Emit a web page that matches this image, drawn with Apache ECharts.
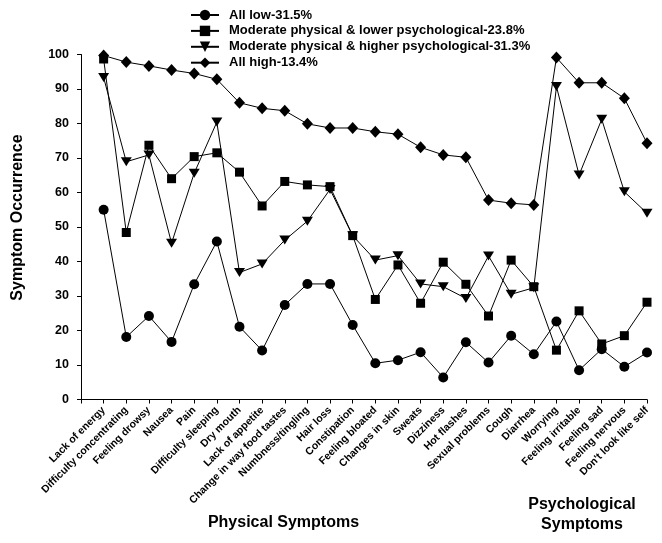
<!DOCTYPE html>
<html>
<head>
<meta charset="utf-8">
<script src="https://cdn.jsdelivr.net/npm/echarts@6/dist/echarts.min.js"></script>
<style>
html,body{margin:0;padding:0;background:#fff;}
#chart{width:662px;height:543px;}
</style>
</head>
<body>
<div id="chart"></div>
<script>
var categories = ["Lack of energy","Difficulty concentrating","Feeling drowsy","Nausea","Pain","Difficulty sleeping","Dry mouth","Lack of appetite","Change in way food tastes","Numbness/tingling","Hair loss","Constipation","Feeling bloated","Changes in skin","Sweats","Dizziness","Hot flashes","Sexual problems","Cough","Diarrhea","Worrying","Feeling irritable","Feeling sad","Feeling nervous","Don't look like self"];
var seriesNames = ["All low-31.5%","Moderate physical & lower psychological-23.8%","Moderate physical & higher psychological-31.3%","All high-13.4%"];
var allLow = [55,18.1,24.2,16.7,33.4,45.8,21.1,14.2,27.4,33.5,33.5,21.6,10.5,11.4,13.7,6.4,16.6,10.7,18.5,13.1,22.6,8.5,14.6,9.5,13.6];
var modLower = [98.7,48.4,73.7,64.0,70.4,71.5,65.9,56.1,63.2,62.2,61.7,47.5,29.0,39.0,27.9,39.8,33.4,24.2,40.4,32.7,14.3,25.7,16.1,18.5,28.2];
var modHigher = [93.3,68.9,70.9,45.3,65.6,80.4,36.8,39.3,46.2,51.7,60.9,47.5,40.4,41.7,33.5,32.7,29.3,41.6,30.5,32.4,90.7,65.1,81.2,60.2,54.0];
var allHigh = [99.7,97.8,96.7,95.5,94.5,92.8,86.0,84.4,83.7,79.9,78.7,78.7,77.6,76.9,73.1,70.9,70.2,57.8,56.9,56.4,99.1,91.8,91.8,87.3,74.3];
var yTicks = [0,10,20,30,40,50,60,70,80,90,100];

var FONT = '"Liberation Sans", Arial, sans-serif';
var chart = echarts.init(document.getElementById('chart'), null, {renderer:'canvas'});

function mk(name, data, symbol, size, rotate) {
  return {
    name: name, type: 'line', data: [null].concat(data),
    symbol: symbol, symbolSize: size, symbolRotate: rotate || 0,
    showAllSymbol: true,
    lineStyle: {color:'#000', width:1},
    itemStyle: {color:'#000', borderColor:'#000', borderWidth:0},
    emphasis: {disabled:true}, animation:false
  };
}

chart.setOption({
  animation: false,
  backgroundColor: '#fff',
  grid: {left:81, right:15, top:54.5, bottom:143.5, containLabel:false},
  legend: {
    orient:'vertical', left:190, top:8, padding:0, itemWidth:28, itemHeight:13, itemGap:1.9,
    textStyle:{fontFamily:FONT, fontWeight:'bold', fontSize:13, color:'#000', lineHeight:14, padding:[0,0,0,5]},
    data: seriesNames.map(function(n){return {name:n};})
  },
  xAxis: {
    type:'category', boundaryGap:false, data: [''].concat(categories),
    axisLine:{lineStyle:{color:'#000', width:1}},
    axisTick:{show:true, interval:0, length:4, lineStyle:{color:'#000'}},
    axisLabel:{interval:0, rotate:45, margin:9, fontFamily:FONT, fontWeight:'bold', fontSize:10.5, color:'#000'},
    splitLine:{show:false}
  },
  yAxis: {
    type:'value', min:0, max:100, interval:10,
    axisLine:{show:true, lineStyle:{color:'#000', width:1}},
    axisTick:{show:true, length:4, lineStyle:{color:'#000'}},
    axisLabel:{margin:12, fontFamily:FONT, fontWeight:'bold', fontSize:12.5, color:'#000',
      formatter:function(v){return yTicks.indexOf(v) >= 0 ? String(v) : '';}},
    splitLine:{show:false}
  },
  series: [
    mk(seriesNames[0], allLow, 'circle', 10),
    mk(seriesNames[1], modLower, 'rect', 9),
    mk(seriesNames[2], modHigher, 'triangle', [11,9], 180),
    mk(seriesNames[3], allHigh, 'diamond', [11,12])
  ],
  graphic: [
    {type:'text', x:17.5, y:217.5, rotation:Math.PI/2, style:{text:'Symptom Occurrence', font:'bold 16px '+FONT, fill:'#000', align:'center', verticalAlign:'middle'}},
    {type:'text', x:283.5, y:523, style:{text:'Physical Symptoms', font:'bold 16px '+FONT, fill:'#000', align:'center', verticalAlign:'middle'}},
    {type:'text', x:582, y:505, style:{text:'Psychological', font:'bold 16px '+FONT, fill:'#000', align:'center', verticalAlign:'middle'}},
    {type:'text', x:582, y:525, style:{text:'Symptoms', font:'bold 16px '+FONT, fill:'#000', align:'center', verticalAlign:'middle'}}
  ]
});
</script>
</body>
</html>
